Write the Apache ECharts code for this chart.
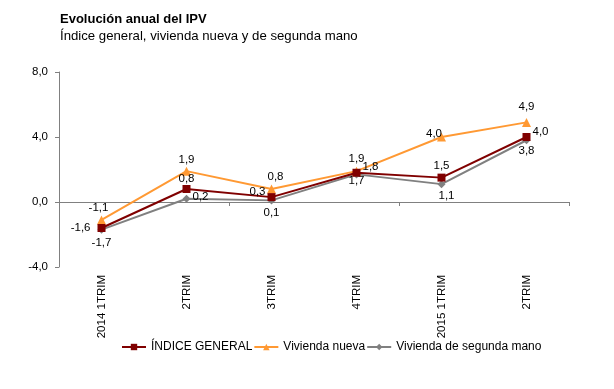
<!DOCTYPE html>
<html><head><meta charset="utf-8">
<script src="https://cdn.jsdelivr.net/npm/echarts@6/dist/echarts.min.js"></script>
<style>html,body{margin:0;padding:0;background:#fff}#c{width:614px;height:389px}</style>
</head><body><div id="c"></div>
<script>
var categories = ['2014 1TRIM','2TRIM','3TRIM','4TRIM','2015 1TRIM','2TRIM'];
var indiceGeneral = [-1.6, 0.8, 0.3, 1.8, 1.5, 4.0];
var viviendaNueva = [-1.1, 1.9, 0.8, 1.9, 4.0, 4.9];
var segundaMano = [-1.7, 0.2, 0.1, 1.7, 1.1, 3.8];
var yTicks = [-4, 0, 4, 8];

var posGeneral = ['left','top','left','right','top','right'];
var offGeneral = [[-5,0],[0,2],[0,-5],[0,-6],[0,0],[0,-5]];
var posNueva = ['top','top','top','top','left','top'];
var offNueva = [[-3,0],[0,1],[4,0],[0,0],[7,-3],[0,-3]];
var posSegunda = ['bottom','right','bottom','bottom','bottom','bottom'];
var offSegunda = [[0,1],[0,-2],[0,0],[0,-6],[5,0],[0,-1]];

var FONT = '"Liberation Sans", Arial, sans-serif';
function fmt(v){ return v.toFixed(1).replace('.', ','); }
function build(vals, pos, off){
  return vals.map(function(v,i){
    return {value: v, label: {position: pos[i], offset: off[i]}};
  });
}
var lblBase = {show:true, color:'#000', fontFamily:FONT, fontSize:11.5, distance:2,
  formatter:function(p){return fmt(p.value);}};

var chart = echarts.init(document.getElementById('c'));
chart.setOption({
  animation:false,
  title:[
    {text:'Evolución anual del IPV', left:60, top:13, padding:0, textStyle:{fontFamily:FONT, fontSize:13, fontWeight:'bold', color:'#000'}},
    {text:'Índice general, vivienda nueva y de segunda mano', left:60, top:30, padding:0, textStyle:{fontFamily:FONT, fontSize:13.2, fontWeight:'normal', color:'#000'}}
  ],
  legend:{
    top:341, left:121, padding:0, itemWidth:24, itemHeight:8, itemGap:1,
    textStyle:{fontFamily:FONT, fontSize:12, color:'#000'},
    data:['ÍNDICE GENERAL','Vivienda nueva','Vivienda de segunda mano']
  },
  grid:{left:59, right:45, top:72, bottom:122},
  xAxis:[
    {type:'category', data:categories, boundaryGap:true,
     axisLine:{onZero:true, lineStyle:{color:'#808080'}},
     axisTick:{show:true, length:4, lineStyle:{color:'#808080'}},
     axisLabel:{show:false}},
    {type:'category', data:categories, position:'bottom', boundaryGap:true,
     axisLine:{show:false, onZero:false}, axisTick:{show:false},
     axisLabel:{rotate:90, margin:8, color:'#000', fontFamily:FONT, fontSize:11.5}}
  ],
  yAxis:{type:'value', min:yTicks[0], max:yTicks[yTicks.length-1], interval:4,
    axisLine:{show:true, lineStyle:{color:'#808080'}},
    axisTick:{show:true, length:4, lineStyle:{color:'#808080'}},
    splitLine:{show:false},
    axisLabel:{color:'#000', fontFamily:FONT, fontSize:11.5, margin:11, formatter:function(v){return fmt(v);}}},
  series:[
    {name:'ÍNDICE GENERAL', type:'line', xAxisIndex:0, data:build(indiceGeneral,posGeneral,offGeneral),
     symbol:'rect', symbolSize:8, color:'#800000', lineStyle:{width:2, color:'#800000'},
     itemStyle:{color:'#800000'}, label:lblBase, z:3},
    {name:'Vivienda nueva', type:'line', xAxisIndex:0, data:build(viviendaNueva,posNueva,offNueva),
     symbol:'triangle', symbolSize:9, color:'#FF9933', lineStyle:{width:2, color:'#FF9933'},
     itemStyle:{color:'#FF9933'}, label:lblBase, z:2},
    {name:'Vivienda de segunda mano', type:'line', xAxisIndex:0, data:build(segundaMano,posSegunda,offSegunda),
     symbol:'diamond', symbolSize:8, color:'#808080', lineStyle:{width:2, color:'#808080'},
     itemStyle:{color:'#808080'}, label:lblBase, z:1}
  ]
});
</script></body></html>
